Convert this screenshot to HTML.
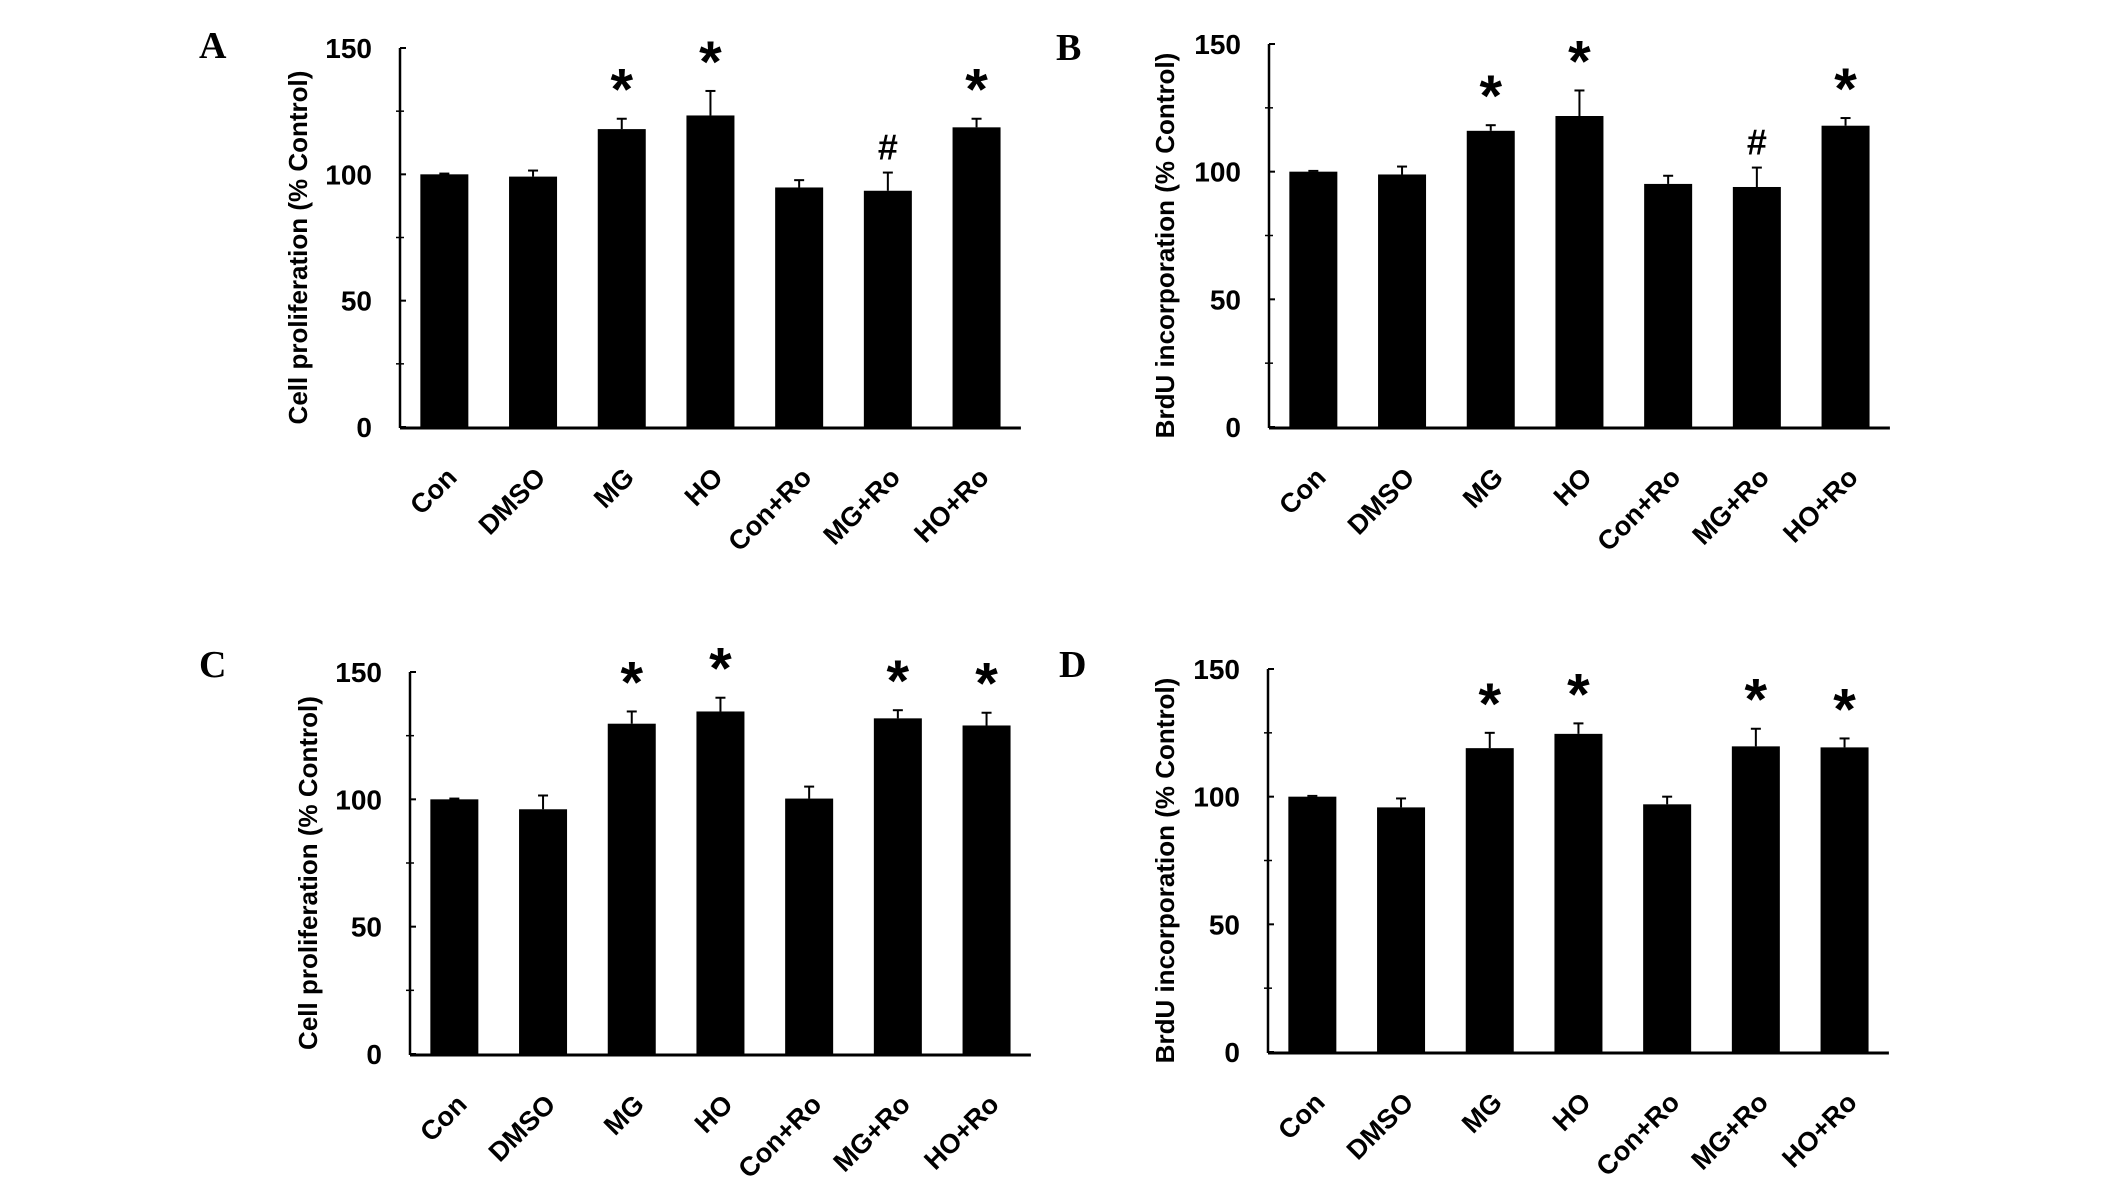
<!DOCTYPE html>
<html><head><meta charset="utf-8"><style>
html,body{margin:0;padding:0;background:#fff;}
svg{display:block;}
text{font-family:"Liberation Sans",sans-serif;}
</style></head><body>
<svg id="fig" width="2126" height="1177" viewBox="0 0 2126 1177"></svg>
<script>
const categories = ["Con","DMSO","MG","HO","Con+Ro","MG+Ro","HO+Ro"];
const yTicks = [0,50,100,150];
const minorTicks = [25,75,125];
const valuesA = [100,99.1,117.9,123.3,94.8,93.5,118.6];
const errA    = [0.3,2.4,4.1,9.7,2.9,7.2,3.4];
const marksA  = ["","","*","*","","#","*"];
const valuesB = [100,98.9,116,121.8,95.2,94,118];
const errB    = [0.3,3.1,2.2,10,3.2,7.6,3];
const marksB  = ["","","*","*","","#","*"];
const valuesC = [100,96.1,129.7,134.5,100.3,131.8,129];
const errC    = [0.3,5.4,4.8,5.4,4.7,3.2,5];
const marksC  = ["","","*","*","","*","*"];
const valuesD = [100,95.8,119,124.6,97,119.7,119.3];
const errD    = [0.3,3.5,6,4.1,3,6.9,3.5];
const marksD  = ["","","*","*","","*","*"];

const NS = "http://www.w3.org/2000/svg";
const svg = document.getElementById("fig");
function mk(tag, attrs, parent){
  const e = document.createElementNS(NS, tag);
  for (const k in attrs) e.setAttribute(k, attrs[k]);
  (parent||svg).appendChild(e);
  return e;
}
function panel(id, letter, lx, ly, ax, y0, y150, title, titleX, vals, errs, marks){
  const g = mk("g", {});
  
  
  const slot = 88.7, bw = 48;
  const yS = v => y0 - (v/150)*(y0 - y150);
  const xC = i => ax + slot*(i+0.5);
  const right = ax + slot*7;
  const lab = mk("text", {x:lx, y:ly, "font-size":38, "font-weight":"bold", style:'font-family:"Liberation Serif",serif'}, g);
  lab.textContent = letter;
  
  
  vals.forEach((v,i)=>{
    const top = yS(v), et = yS(v+errs[i]);
    const r = mk("rect", {x:xC(i)-bw/2, y:top, width:bw, height:y0-top, fill:"#000"}, g);
    
    
    const el = mk("line", {x1:xC(i), x2:xC(i), y1:top, y2:et, stroke:"#000", "stroke-width":2}, g);
    
    
    mk("line", {x1:xC(i)-5, x2:xC(i)+5, y1:et, y2:et, stroke:"#000", "stroke-width":2}, g);
    if (marks[i]){
      const isStar = marks[i] === "*";
      const s = mk("text", {x:xC(i), y: isStar ? et-9 : et-13, "text-anchor":"middle", "font-size": isStar?58:36, "font-weight":"bold"}, g);
      s.textContent = marks[i];
      
      
    }
    const t = mk("text", {x:0, y:0, "text-anchor":"end", "font-size":27, "font-weight":"bold",
      transform:"translate(" + (xC(i)+14) + "," + (y0+52) + ") rotate(-45)"}, g);
    t.textContent = categories[i];
    
    
  });
  const ya = mk("line", {x1:ax, x2:ax, y1:y150, y2:y0+1, stroke:"#000", "stroke-width":2.5}, g);
  
  
  const xa = mk("line", {x1:ax, x2:right, y1:y0+1, y2:y0+1, stroke:"#000", "stroke-width":3}, g);
  
  
  yTicks.forEach(v=>{
    mk("line", {x1:ax, x2:ax+6, y1:yS(v), y2:yS(v), stroke:"#000", "stroke-width":2}, g);
    const t = mk("text", {x:ax-28, y:yS(v)+10, "text-anchor":"end", "font-size":28, "font-weight":"bold"}, g);
    t.textContent = v;
    
    
  });
  minorTicks.forEach(v=>{
    mk("line", {x1:ax-4, x2:ax+4, y1:yS(v), y2:yS(v), stroke:"#000", "stroke-width":1.5}, g);
  });
  const tt = mk("text", {x:0, y:0, "text-anchor":"middle", "font-size":26, "font-weight":"bold",
    transform:"translate(" + (titleX+10) + "," + ((y0+y150)/2+10) + ") rotate(-90)"}, g);
  tt.textContent = title;
  
  
}
panel("a","A",199,58,400,427,48,"Cell proliferation (% Control)",297,valuesA,errA,marksA);
panel("b","B",1056,60,1269,427,44,"BrdU incorporation (% Control)",1164,valuesB,errB,marksB);
panel("c","C",199,677,410,1054,672,"Cell proliferation (% Control)",307,valuesC,errC,marksC);
panel("d","D",1059,677,1268,1052,669,"BrdU incorporation (% Control)",1164,valuesD,errD,marksD);
</script>
</body></html>
